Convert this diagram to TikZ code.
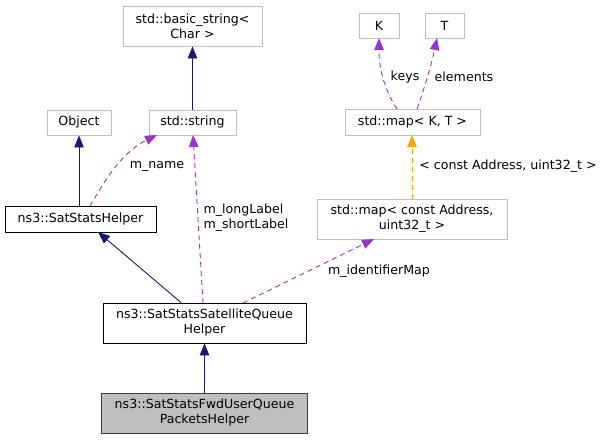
\documentclass[tikz,border=0pt]{standalone}
\usepackage{fontspec}
\setmainfont{DejaVu Sans}
\usetikzlibrary{arrows.meta}
\definecolor{navy}{HTML}{191970}
\definecolor{purp}{HTML}{9A32CD}
\definecolor{orng}{HTML}{FFA500}
\definecolor{gborder}{HTML}{BFBFBF}
\definecolor{dborder}{HTML}{404040}
\begin{document}
\begin{tikzpicture}[x=1pt,y=-1pt,
  every node/.style={font=\fontsize{12.6}{15}\selectfont, inner sep=0pt, align=center},
  ubox/.style={draw=gborder, line width=0.9pt, fill=white},
  dbox/.style={draw=black, line width=0.9pt, fill=white},
  cbox/.style={draw=dborder, line width=0.9pt, fill=gborder},
  inh/.style={draw=navy, line width=0.9pt, -{Triangle[length=12pt,width=9.5pt]}},
  use/.style={draw=purp, line width=0.9pt, dash pattern=on 5pt off 4pt, -{Triangle[length=12pt,width=9.5pt]}},
  tmpl/.style={draw=orng, line width=0.9pt, dash pattern=on 5pt off 4pt, -{Triangle[length=12pt,width=9.5pt]}},
  lbl/.style={fill=none}
]
\useasboundingbox (0,0) rectangle (605,440);
\node[ubox, minimum width=139pt, minimum height=40pt] (bs) at (192.5,26) {std::basic\_string<\\Char >};
\node[ubox, minimum width=64pt, minimum height=25pt] (obj) at (79,122.5) {Object};
\node[ubox, minimum width=87pt, minimum height=25pt] (str) at (192.5,122.5) {std::string};
\node[ubox, minimum width=40pt, minimum height=25pt] (K) at (379,25.5) {K};
\node[ubox, minimum width=39pt, minimum height=25pt] (T) at (444.5,25.5) {T};
\node[ubox, minimum width=135pt, minimum height=26pt] (map) at (412.5,122) {std::map< K, T >};
\node[ubox, minimum width=190pt, minimum height=40pt] (mapA) at (412,219) {std::map< const Address,\\uint32\_t >};
\node[dbox, minimum width=151pt, minimum height=26pt] (ssh) at (80.5,219) {ns3::SatStatsHelper};
\node[dbox, minimum width=203pt, minimum height=40pt] (sq) at (204.5,323) {ns3::SatStatsSatelliteQueue\\Helper};
\node[cbox, minimum width=206pt, minimum height=40pt] (fwd) at (204.5,413) {ns3::SatStatsFwdUserQueue\\PacketsHelper};

\draw[inh] (str.north) -- (bs.south);
\draw[inh] (ssh.north -| obj) -- (obj.south);
\draw[inh] (sq.north -| 181,0) -- (98,232);
\draw[inh] (fwd.north) -- (sq.south);
\draw[use] (90,206) .. controls (105,180) and (122,152) .. (157,135);
\draw[use] (203,303) -- (193,135);
\draw[use] (243,303) -- (374,239);
\draw[use] (397,109) .. controls (388,95) and (379,75) .. (379,38);
\draw[use] (417,109) .. controls (424,90) and (432,62) .. (437,38);
\draw[tmpl] (412,199) -- (412,135);

\node[lbl] (l1) at (157,166) {m\_name};
\node[lbl, align=left] (l2) at (246,218) {m\_longLabel\\m\_shortLabel};
\node[lbl] (l3) at (379,271) {m\_identifierMap};
\node[lbl] (l4) at (405,77) {keys};
\node[lbl] (l5) at (464,77) {elements};
\node[lbl] (l6) at (508,166) {< const Address, uint32\_t >};
\end{tikzpicture}
\end{document}
